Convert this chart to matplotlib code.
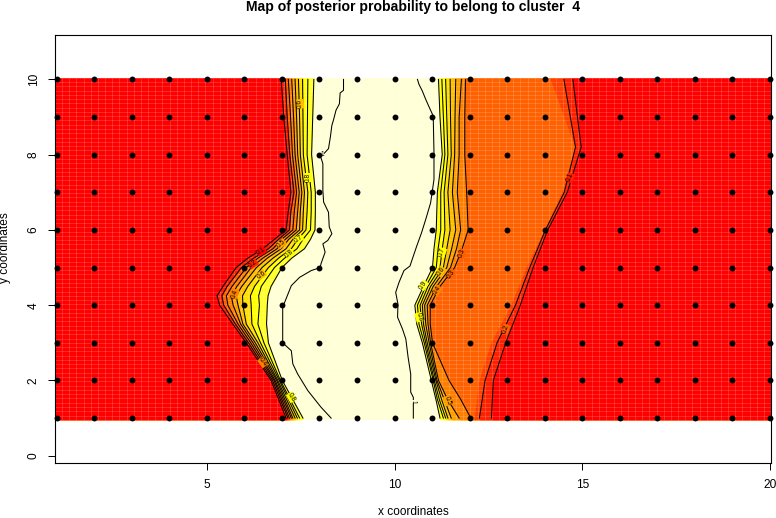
import numpy as np
import matplotlib
matplotlib.use("Agg")
import matplotlib.pyplot as plt

plt.rcParams["font.family"] = ["Liberation Sans", "DejaVu Sans"]

# sampling sites
SITE_X = list(range(1, 21))
SITE_Y = list(range(1, 11))

# heat.colors(12) steps used by the band fills
C_RED = "#FF0000"
C_PALE = "#FFFFD5"
BAND_COLOURS = ["#FF2000", "#FF6000", "#FF8000", "#FF9F00", "#FFBF00",
                "#FFDF00", "#FFFF00", "#FFFF2A", "#FFFF80"]

# left flank: x position of levels 0.1 ... 0.9 at each y
LEFT_Y = [1, 2, 3, 3.5, 4, 4.25, 4.5, 5, 5.25, 5.5, 5.75, 6, 6.5, 7, 8, 9, 10]
LEFT_01 = [7.11, 6.71, 6.05, 5.69, 5.34, 5.27, 5.43, 5.78, 6.09, 6.49, 6.80, 7.11, 7.17, 7.24, 7.14, 7.05, 6.98]
LEFT_02 = [7.16, 6.75, 6.11, 5.76, 5.45, 5.40, 5.54, 5.92, 6.25, 6.64, 6.91, 7.20, 7.24, 7.32, 7.21, 7.14, 7.09]
LEFT_03 = [7.20, 6.79, 6.17, 5.83, 5.56, 5.52, 5.67, 6.05, 6.36, 6.76, 6.99, 7.29, 7.33, 7.39, 7.28, 7.23, 7.17]
LEFT_04 = [7.25, 6.82, 6.23, 5.90, 5.70, 5.65, 5.80, 6.18, 6.49, 6.87, 7.09, 7.38, 7.42, 7.46, 7.35, 7.31, 7.26]
LEFT_05 = [7.29, 6.86, 6.29, 5.96, 5.83, 5.78, 5.93, 6.32, 6.61, 6.98, 7.18, 7.47, 7.49, 7.53, 7.42, 7.39, 7.35]
LEFT_06 = [7.35, 6.89, 6.36, 6.05, 5.96, 5.95, 6.09, 6.47, 6.76, 7.11, 7.29, 7.55, 7.57, 7.60, 7.49, 7.47, 7.44]
LEFT_07 = [7.41, 6.93, 6.43, 6.20, 6.18, 6.16, 6.27, 6.64, 6.91, 7.25, 7.42, 7.64, 7.67, 7.69, 7.57, 7.56, 7.55]
LEFT_08 = [7.47, 6.96, 6.52, 6.36, 6.40, 6.38, 6.45, 6.80, 7.07, 7.40, 7.56, 7.76, 7.78, 7.78, 7.67, 7.68, 7.69]
LEFT_09 = [7.56, 7.01, 6.64, 6.59, 6.61, 6.63, 6.71, 7.00, 7.26, 7.60, 7.76, 7.88, 7.89, 7.89, 7.79, 7.82, 7.85]
LEFT_LINES = [LEFT_01, LEFT_02, LEFT_03, LEFT_04, LEFT_05, LEFT_06, LEFT_07, LEFT_08, LEFT_09]

# right flank: levels 0.9 ... 0.3 share these rows
RIGHT_Y = [1, 1.5, 2, 3, 3.5, 4, 4.5, 5, 5.5, 6, 7, 8, 9, 10]
RIGHT_09 = [11.21, 11.10, 10.98, 10.74, 10.59, 10.54, 10.77, 11.01, 11.05, 11.11, 11.14, 11.27, 11.21, 11.17]
RIGHT_08 = [11.30, 11.14, 11.03, 10.79, 10.65, 10.61, 10.83, 11.11, 11.16, 11.23, 11.23, 11.34, 11.30, 11.26]
RIGHT_07 = [11.36, 11.19, 11.06, 10.83, 10.72, 10.68, 10.89, 11.21, 11.27, 11.34, 11.32, 11.42, 11.39, 11.36]
RIGHT_06 = [11.42, 11.25, 11.10, 10.87, 10.77, 10.74, 10.96, 11.30, 11.39, 11.48, 11.42, 11.51, 11.49, 11.48]
RIGHT_05 = [11.51, 11.32, 11.13, 10.92, 10.83, 10.80, 11.03, 11.39, 11.52, 11.63, 11.54, 11.60, 11.61, 11.63]
RIGHT_04 = [11.72, 11.41, 11.17, 10.96, 10.89, 10.87, 11.12, 11.49, 11.65, 11.76, 11.67, 11.72, 11.72, 11.78]
RIGHT_03 = [12.03, 11.76, 11.45, 11.01, 10.95, 10.95, 11.21, 11.60, 11.80, 11.96, 11.92, 11.87, 11.87, 11.89]
RIGHT_LINES = [RIGHT_09, RIGHT_08, RIGHT_07, RIGHT_06, RIGHT_05, RIGHT_04, RIGHT_03]

# outer pair on the right, with a kink near y = 8.2, and the 0.25 colour edge next to it
OUTER_Y = [1, 2, 3, 4, 5, 6, 7, 8.2, 10]
RIGHT_025 = [12.12, 12.25, 12.56, 13.09, 13.50, 13.98, 14.45, 14.80, 14.15]
RIGHT_02 = [12.26, 12.41, 12.73, 13.22, 13.60, 14.02, 14.52, 14.82, 14.51]
RIGHT_01 = [12.58, 12.63, 12.96, 13.35, 13.69, 14.08, 14.60, 14.97, 14.75]

# the two wandering level 1 lines
ONE_LEFT_X = [8.31, 8.04, 7.69, 7.42, 7.29, 7.25, 7.02, 7.02, 7.11, 7.25, 7.47, 7.78, 8.02,
              8.04, 8.15, 8.09, 8.22, 8.33, 8.26, 8.24, 8.11, 8.09, 8.09, 8.02, 8.13, 8.24,
              8.29, 8.33, 8.37, 8.44, 8.53, 8.55, 8.64, 8.64]
ONE_LEFT_Y = [1.00, 1.29, 1.73, 2.17, 2.44, 2.79, 3.00, 3.95, 4.17, 4.52, 4.74, 4.92, 5.00,
              5.10, 5.41, 5.63, 5.72, 5.90, 6.08, 6.47, 6.74, 7.05, 7.76, 7.98, 8.04, 8.16,
              8.47, 8.78, 8.91, 9.18, 9.35, 9.64, 9.71, 10.0]
ONE_RIGHT_X = [10.50, 10.50, 10.43, 10.43, 10.36, 10.30, 10.21, 10.08, 10.09, 10.03, 10.12,
               10.25, 10.41, 10.59, 10.72, 10.83, 10.96, 11.05, 11.05, 11.03, 10.95, 10.83,
               10.74, 10.65, 10.61]
ONE_RIGHT_Y = [1.00, 1.55, 1.69, 2.17, 2.62, 3.10, 3.37, 3.68, 4.03, 4.34, 4.61,
               4.92, 5.04, 5.57, 5.93, 6.28, 6.72, 7.34, 8.05, 9.03, 9.20, 9.47,
               9.69, 9.87, 10.0]

# contour labels: x, y, text, rotation, colour behind the text
LABELS = [
    (6.45, 5.43, "0.1", 32, C_RED), (6.23, 5.10, "0.2", 35, "#FF2000"),
    (5.74, 4.30, "0.4", 70, "#FF8000"), (6.98, 5.63, "0.5", 40, "#FF9F00"),
    (6.45, 4.81, "0.6", 35, "#FFBF00"), (7.44, 5.76, "0.7", 35, "#FFFF00"),
    (7.20, 5.36, "0.8", 40, "#FFFF00"), (7.49, 9.35, "0.6", 95, "#FFBF00"),
    (7.70, 7.40, "0.8", 90, "#FFFF00"), (7.25, 1.55, "0.8", -60, "#FFFF00"),
    (6.49, 2.48, "0.4", -55, "#FF8000"), (8.07, 8.00, "1", 0, C_PALE),
    (14.68, 7.39, "0.1", 68, "#FF2000"), (11.80, 5.37, "0.3", 70, "#FF6000"),
    (11.27, 5.40, "0.7", 70, "#FFFF00"), (11.52, 4.83, "0.3", 55, "#FF6000"),
    (10.77, 4.53, "0.9", 55, "#FFFF2A"), (11.14, 4.39, "0.4", 55, "#FF8000"),
    (11.23, 4.90, "0.6", 55, "#FFBF00"), (10.65, 3.68, "0.8", -75, "#FFFF00"),
    (12.96, 3.37, "0.2", 70, "#FF6000"), (11.41, 1.46, "0.5", -70, "#FF9F00"),
    (10.50, 1.44, "1", -90, C_PALE),
]

X_TICKS = [5, 10, 15, 20]
Y_TICKS = [0, 2, 4, 6, 8, 10]
X0, X1 = 0.955, 20.03
Y0, Y1 = 0.955, 10.045
FIG_W, FIG_H = 776, 518


def stretch(y, x):
    # carry the end values out to the edge of the image cells
    return np.r_[Y0, y, Y1], np.r_[x[0], x, x[-1]]


def draw_bands(ax):
    ax.fill_between([X0, X1], Y0, Y1, color=C_PALE, lw=0, zorder=1)
    # left flank, painted from the 0.9 line outwards
    for xs, col in zip(LEFT_LINES[::-1], BAND_COLOURS[-2::-1] + [C_RED]):
        yy, xx = stretch(LEFT_Y, xs)
        ax.fill_betweenx(yy, X0, xx, color=col, lw=0, zorder=1)
    # right flank: same idea, going right
    right_cols = ["#FFFF00", "#FFFF00", "#FFDF00", "#FFBF00", "#FF9F00", "#FF8000", "#FF6000"]
    for xs, col in zip(RIGHT_LINES, right_cols):
        yy, xx = stretch(RIGHT_Y, xs)
        ax.fill_betweenx(yy, xx, X1, color=col, lw=0, zorder=1)
    for xs, col in ((RIGHT_025, "#FF4000"), (RIGHT_02, "#FF2000"), (RIGHT_01, C_RED)):
        yy, xx = stretch(OUTER_Y, xs)
        ax.fill_betweenx(yy, xx, X1, color=col, lw=0, zorder=1)


def draw_seams(ax):
    # pale gaps between the image cells
    kw = dict(color="white", alpha=0.3, lw=0.36, zorder=2)
    ax.vlines(np.linspace(X0, X1, 101), Y0, Y1, **kw)
    ax.hlines(np.linspace(Y0, Y1, 81), X0, X1, **kw)


def draw_contours(ax):
    kw = dict(color="black", lw=0.75, zorder=3)
    for xs in LEFT_LINES:
        ax.plot(xs, LEFT_Y, **kw)
    for xs in RIGHT_LINES:
        ax.plot(xs, RIGHT_Y, **kw)
    ax.plot(RIGHT_02, OUTER_Y, **kw)
    ax.plot(RIGHT_01, OUTER_Y, **kw)
    ax.plot(ONE_LEFT_X, ONE_LEFT_Y, **kw)
    ax.plot(ONE_RIGHT_X, ONE_RIGHT_Y, **kw)
    for x, y, txt, rot, bg in LABELS:
        ax.text(x, y, txt, fontsize=4.8, rotation=rot, ha="center", va="center", zorder=4,
                rotation_mode="anchor",
                bbox=dict(facecolor=bg, edgecolor="none", pad=0.1))


def main():
    fig = plt.figure(figsize=(FIG_W / 100, FIG_H / 100), dpi=100)
    ax = fig.add_axes([55 / FIG_W, 1 - 462.5 / FIG_H, 716 / FIG_W, 427.5 / FIG_H])

    draw_bands(ax)
    draw_seams(ax)
    draw_contours(ax)

    sx, sy = np.meshgrid(SITE_X, SITE_Y)
    ax.scatter(sx.ravel(), sy.ravel(), s=18, c="black", lw=0, zorder=5, clip_on=False)

    ax.set_xlim(X0, 20.027)
    ax.set_ylim(-0.18, 11.18)
    ax.set_xticks(X_TICKS)
    ax.set_yticks(Y_TICKS)
    ax.tick_params(length=5, width=0.7, labelsize=8.6, pad=7)
    ax.tick_params(axis="y", pad=6)
    for lab in ax.get_yticklabels():
        lab.set_rotation(90)
        lab.set_va("center")
    for s in ax.spines.values():
        s.set_linewidth(0.8)

    fig.text(413 / FIG_W, 1 - 7 / FIG_H, "Map of posterior probability to belong to cluster  4",
             ha="center", va="center", fontsize=10.1, fontweight="bold")
    fig.text(413 / FIG_W, 1 - 512 / FIG_H, "x coordinates", ha="center", va="center", fontsize=8.6)
    fig.text(5 / FIG_W, 1 - 248 / FIG_H, "y coordinates", ha="center", va="center",
             rotation=90, fontsize=8.6)

    fig.savefig("out.png", dpi=100)
    plt.close(fig)


if __name__ == "__main__":
    main()
